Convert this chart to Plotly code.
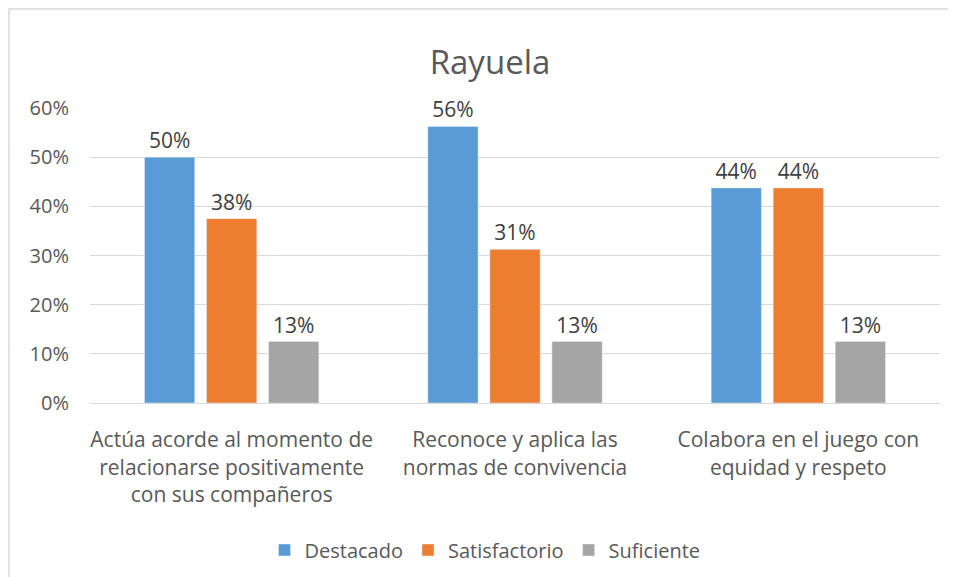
import plotly.graph_objects as go

categories = [
    "Actúa acorde al momento de<br>relacionarse positivamente<br>con sus compañeros",
    "Reconoce y aplica las<br>normas de convivencia",
    "Colabora en el juego con<br>equidad y respeto",
]
series_names = ["Destacado", "Satisfactorio", "Suficiente"]
destacado = [0.50, 0.5625, 0.4375]
satisfactorio = [0.375, 0.3125, 0.4375]
suficiente = [0.125, 0.125, 0.125]
colors = ["#5b9bd5", "#ed7d31", "#a5a5a5"]
y_ticks = [0, 0.1, 0.2, 0.3, 0.4, 0.5, 0.6]

FONT = "Open Sans"
TXT = "#595959"

def pct(v):
    return f"{int(v * 100 + 0.5)}%"

fig = go.Figure()
for name, vals, col in zip(series_names, [destacado, satisfactorio, suficiente], colors):
    fig.add_trace(go.Bar(
        x=categories, y=vals, name=name, marker_color=col,
        text=[pct(v) for v in vals], textposition="outside",
        textfont=dict(family=FONT, size=21, color="#404040"),
        cliponaxis=False,
    ))

# page has 8px body offset
W, H = 948, 569
L, R, T, B = 82, 16, 100, 174
pw = W - L - R
ph = H - T - B
CX = 482 / W

fig.update_layout(
    width=W, height=H,
    margin=dict(l=L, r=R, t=T, b=B),
    paper_bgcolor="white", plot_bgcolor="white",
    barmode="group", bargap=0.343, bargroupgap=0.19,
    title=dict(text="Rayuela", x=CX, xanchor="center", xref="container",
               y=1 - 54 / H, yanchor="middle",
               font=dict(family=FONT, size=33, color=TXT)),
    font=dict(family=FONT, color=TXT),
    legend=dict(orientation="h", x=477 / W, xanchor="center", xref="container",
                y=1 - 542 / H, yanchor="middle", yref="container",
                font=dict(family=FONT, size=20, color=TXT),
                traceorder="normal", itemwidth=30),
    yaxis=dict(range=[0, 0.6], tickvals=y_ticks, tickformat=".0%",
               showgrid=True, gridcolor="#d9d9d9", gridwidth=1,
               zeroline=False, showline=False, ticks="",
               tickfont=dict(family=FONT, size=20, color=TXT),
               ticklabelstandoff=20),
    xaxis=dict(showline=True, linecolor="#d9d9d9", linewidth=1, ticks="",
               tickfont=dict(family=FONT, size=21, color=TXT),
               ticklabelstandoff=18),
    shapes=[dict(type="rect", xref="paper", yref="paper",
                 x0=(1 - L) / pw, x1=(W + 20 - L) / pw,
                 y0=-(H + 20 - (H - B)) / ph, y1=((H - B) - 1) / ph,
                 line=dict(color="#d9d9d9", width=1.5), fillcolor="rgba(0,0,0,0)",
                 layer="below")],
)

fig.write_html("out.html")
